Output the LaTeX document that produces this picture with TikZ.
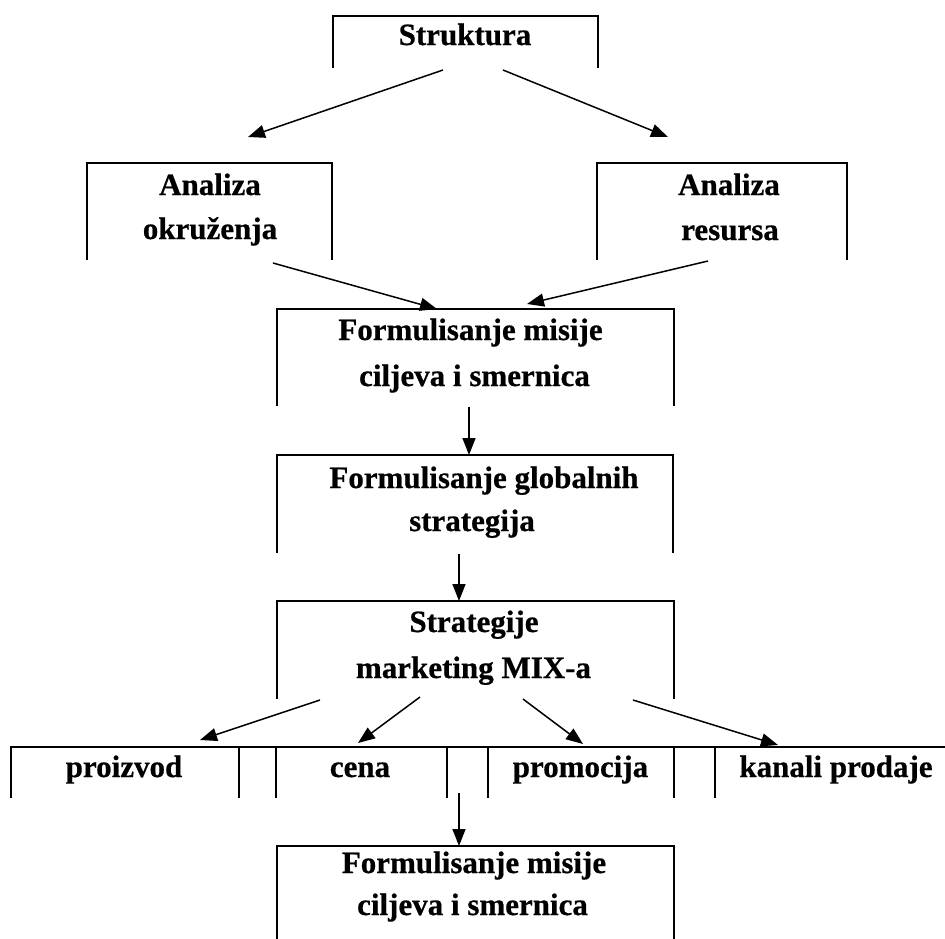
\documentclass[tikz,border=0pt]{standalone}
\usepackage{fontspec}
\setmainfont{Liberation Serif}[BoldFeatures={FakeBold=0.6}]
\usetikzlibrary{calc,arrows.meta}
\begin{document}
\begin{tikzpicture}[x=1pt,y=-1pt,
  frame/.style={rectangle,draw=none,inner sep=0pt,outer sep=0pt,minimum height=#1},
  frame/.default=96pt,
  boxline/.style={line width=2.2pt,line cap=rect},
  lbl/.style={anchor=base,inner sep=0pt,font=\fontsize{31}{36}\selectfont\bfseries},
  arr/.style={line width=1.5pt,-{Triangle[length=17pt,width=13pt]}}]
\useasboundingbox (0,0) rectangle (945,938);

% box frames (open at the bottom)
\node[frame=51pt,minimum width=265pt] (struk) at (465.5,41.5) {};
\node[frame,minimum width=245pt] (okr) at (209.5,211) {};
\node[frame,minimum width=250pt] (res) at (722,211) {};
\node[frame,minimum width=397pt] (mis) at (475.5,357) {};
\node[frame=97pt,minimum width=396pt] (glob) at (475,503.5) {};
\node[frame=97pt,minimum width=397pt] (strat) at (475.5,649.5) {};
\node[frame=50pt,minimum width=228pt] (pro) at (125,772) {};
\node[frame=50pt,minimum width=171pt] (cena) at (361.5,772) {};
\node[frame=50pt,minimum width=186pt] (promo) at (581,772) {};
\node[frame=50pt,minimum width=230pt] (kan) at (830,772) {};
\node[frame=92pt,minimum width=397pt] (bot) at (475.5,892) {};

\foreach \b in {struk,okr,res,mis,glob,strat,bot}
  \draw[boxline] (\b.south west) |- (\b.north east) -- (\b.south east);

% row of the marketing mix elements
\draw[boxline] (pro.north west) -- (kan.north east);
\foreach \b in {pro,cena,promo}
  \draw[boxline] (\b.north west) -- (\b.south west) (\b.north east) -- (\b.south east);
\draw[boxline] (kan.north west) -- (kan.south west);

% texts
\node[lbl] (struk-t) at (465,45) {Struktura};
\node[lbl] (okr-t1) at (210,195) {Analiza};
\node[lbl] (okr-t2) at (210,239) {okruženja};
\node[lbl] (res-t1) at (729,195) {Analiza};
\node[lbl] (res-t2) at (730,240) {resursa};
\node[lbl] (mis-t1) at (470.5,340) {Formulisanje misije};
\node[lbl] (mis-t2) at (474.5,386) {ciljeva i smernica};
\node[lbl] (glob-t1) at (484,488) {Formulisanje globalnih};
\node[lbl] (glob-t2) at (472,531) {strategija};
\node[lbl] (strat-t1) at (474,632) {Strategije};
\node[lbl] (strat-t2) at (473.5,678) {marketing MIX-a};
\node[lbl] (pro-t) at (124,777) {proizvod};
\node[lbl] (cena-t) at (360,777) {cena};
\node[lbl] (promo-t) at (580.5,777) {promocija};
\node[lbl] (kan-t) at (836,777) {kanali prodaje};
\node[lbl] (bot-t1) at (474,873) {Formulisanje misije};
\node[lbl] (bot-t2) at (472.5,915) {ciljeva i smernica};

% connectors
\draw[arr] ($(struk.south)+(-22.5,3)$) -- ($(okr.north)+(38.5,-26)$);
\draw[arr] ($(struk.south)+(37.5,3)$) -- ($(res.north)+(-54,-26)$);
\draw[arr] ($(okr.south)+(63.5,4)$) -- ($(mis.north)+(-38.5,0)$);
\draw[arr] ($(res.south)+(-14,2)$) -- ($(mis.north)+(51.5,-5)$);
\draw[arr] ($(mis.south)+(-6.5,2)$) -- ($(glob.north)+(-6,0)$);
\draw[arr] ($(glob.south)+(-16,2)$) -- ($(strat.north)+(-16.5,0)$);
\draw[arr] ($(strat.south)+(-155.5,2)$) -- ($(pro.north)+(75,-7)$);
\draw[arr] ($(strat.south)+(-55.5,-1)$) -- ($(cena.north)+(-3.5,-4)$);
\draw[arr] ($(strat.south)+(47.5,1)$) -- ($(promo.north)+(2,-3)$);
\draw[arr] ($(strat.south)+(157.5,2)$) -- ($(kan.north)+(-52,-2)$);
\draw[arr] ($(cena.south east)+(12,-4)$) -- ($(bot.north)+(-16.5,0)$);
\end{tikzpicture}
\end{document}
